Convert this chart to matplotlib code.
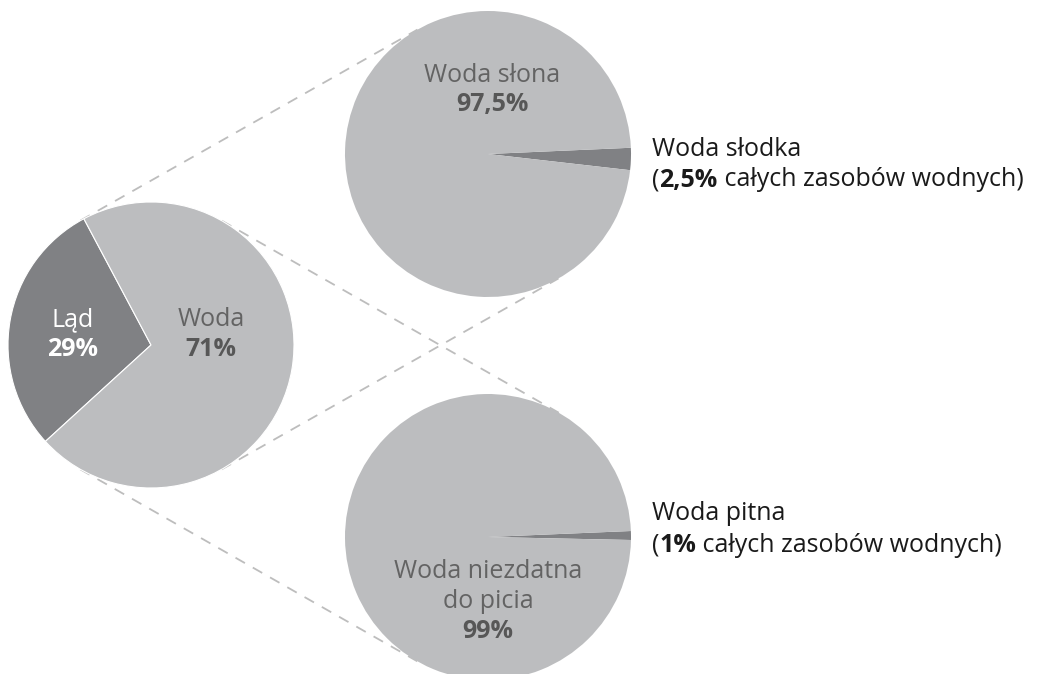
import numpy as np
import matplotlib
matplotlib.use("Agg")
import matplotlib.pyplot as plt

plt.rcParams['font.family'] = ['Open Sans', 'DejaVu Sans']

# data
earth_labels = ["Ląd", "Woda"]
earth_values = [29, 71]
salt_labels = ["Woda słodka", "Woda słona"]
salt_values = [2.5, 97.5]
drink_labels = ["Woda pitna", "Woda niezdatna", "do picia"]
drink_values = [1, 99]

LIGHT = "#bcbdbf"
DARK = "#808184"
W, H = 1048, 674
FS = 18

fig = plt.figure(figsize=(W / 100, H / 100), dpi=100)
ax = fig.add_axes([0, 0, 1, 1])


def py(y):
    # pixel row (from top) -> axis y
    return H - y


R = 143
c_earth = (151, py(345))
c_salt = (488, py(154))
c_drink = (488, py(537))

ax.pie(earth_values, colors=[DARK, LIGHT], startangle=118, center=c_earth, radius=R,
       wedgeprops=dict(linewidth=0.8, edgecolor="white"), frame=True)
ax.pie(salt_values, colors=[DARK, LIGHT], startangle=-6.5, center=c_salt, radius=R,
       wedgeprops=dict(linewidth=0), frame=True)
ax.pie(drink_values, colors=[DARK, LIGHT], startangle=-1.2, center=c_drink, radius=R,
       wedgeprops=dict(linewidth=0), frame=True)
ax.set_xlim(0, W)
ax.set_ylim(0, H)
ax.set_aspect('equal')
ax.axis('off')


# dashed connectors: outer tangents between equal circles
def tangents(c1, c2, r):
    c1 = np.array(c1, float)
    c2 = np.array(c2, float)
    d = c2 - c1
    n = np.array([-d[1], d[0]]) / np.hypot(*d)
    for s in (1, -1):
        p1 = c1 + s * r * n
        p2 = c2 + s * r * n
        ax.plot([p1[0], p2[0]], [p1[1], p2[1]], ls=(0, (6, 5)), color="#bdbdbd",
                lw=1.3, zorder=0)


tangents(c_earth, c_salt, R)
tangents(c_earth, c_drink, R)

GREY_TXT = '#636363'
GREY_BOLD = '#575757'

# labels inside pies
ax.text(73, py(320), earth_labels[0], ha='center', va='center', fontsize=FS, color='white')
ax.text(73, py(350), f"{earth_values[0]}%", ha='center', va='center', fontsize=FS,
        color='white', fontweight='bold')
ax.text(211, py(320), earth_labels[1], ha='center', va='center', fontsize=FS, color=GREY_TXT)
ax.text(211, py(350), f"{earth_values[1]}%", ha='center', va='center', fontsize=FS,
        color=GREY_BOLD, fontweight='bold')

ax.text(492, py(75), salt_labels[1], ha='center', va='center', fontsize=FS, color=GREY_TXT)
ax.text(492, py(104), "97,5%", ha='center', va='center', fontsize=FS,
        color=GREY_BOLD, fontweight='bold')

ax.text(488, py(572), drink_labels[1], ha='center', va='center', fontsize=FS, color=GREY_TXT)
ax.text(488, py(601), drink_labels[2], ha='center', va='center', fontsize=FS, color=GREY_TXT)
ax.text(488, py(631), f"{drink_values[1]}%", ha='center', va='center', fontsize=FS,
        color=GREY_BOLD, fontweight='bold')


# side labels with a bold share
def side_label(x, y, title, share):
    ax.text(x, py(y), title, ha='left', va='center', fontsize=FS, color='#1a1a1a')
    t1 = ax.text(x, py(y + 31), "(", ha='left', va='center', fontsize=FS, color='#1a1a1a')
    t2 = ax.annotate(share, xy=(1, 0), xycoords=t1, ha='left', va='bottom',
                     fontsize=FS, color='#1a1a1a', fontweight='bold')
    ax.annotate(" całych zasobów wodnych)", xy=(1, 0), xycoords=t2, ha='left',
                va='bottom', fontsize=FS, color='#1a1a1a')


side_label(652, 149, salt_labels[0], "2,5%")
side_label(652, 514, drink_labels[0], f"{drink_values[0]}%")

fig.savefig("out.png", dpi=100)
